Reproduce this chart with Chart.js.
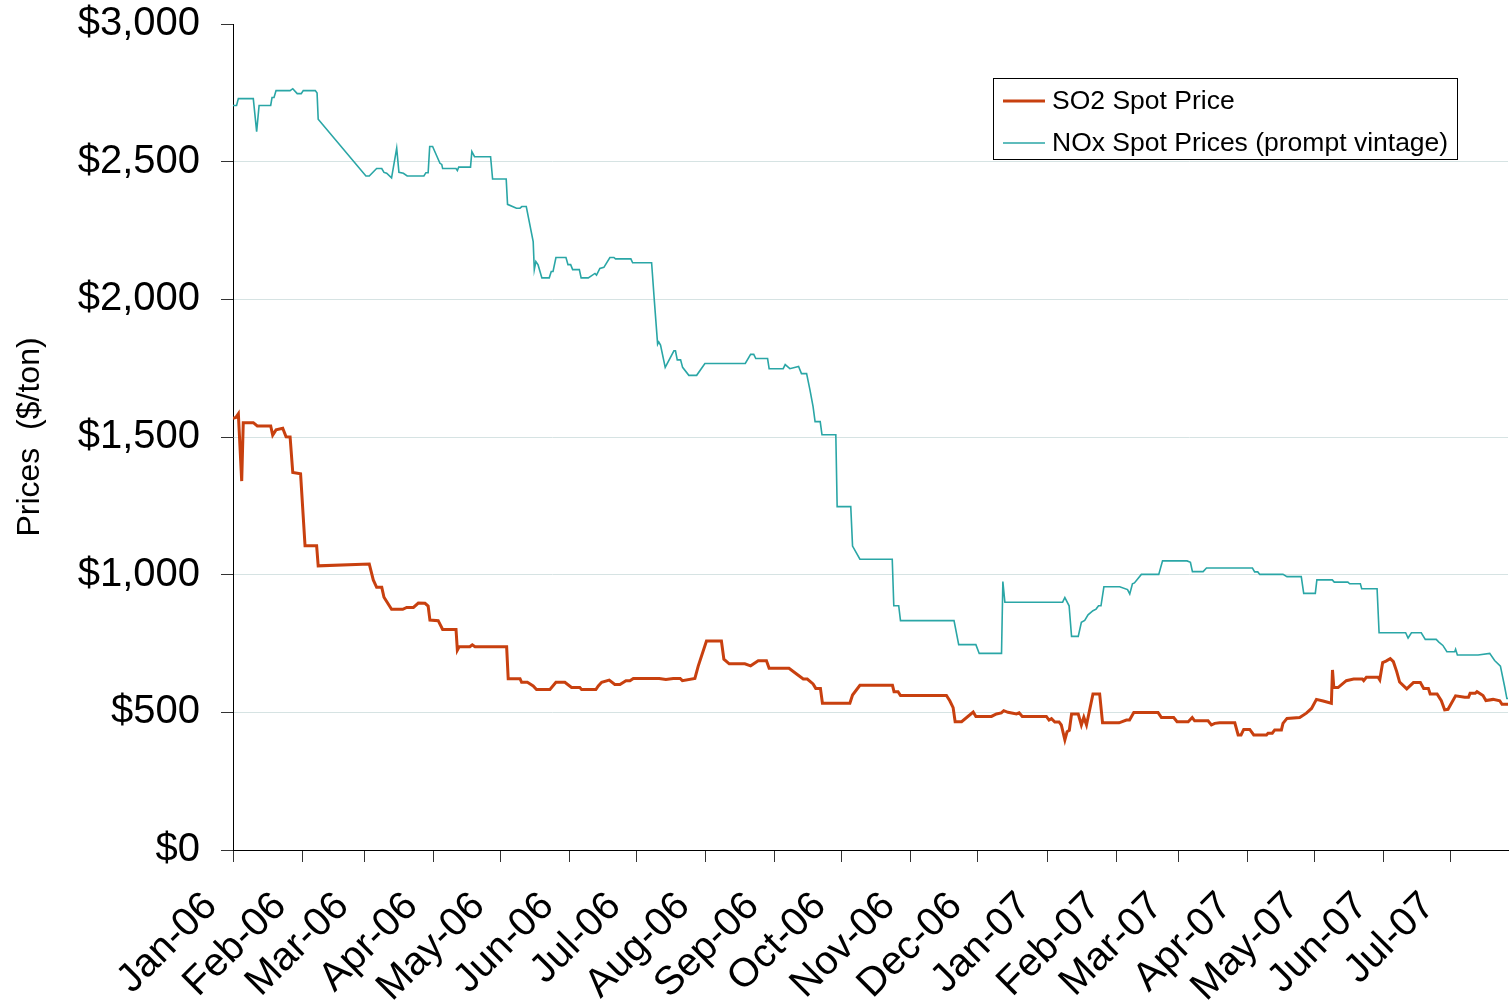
<!DOCTYPE html>
<html><head><meta charset="utf-8">
<script src="https://cdn.jsdelivr.net/npm/chart.js@4.4.0/dist/chart.umd.min.js"></script>
<style>html,body{margin:0;padding:0;background:#fff;overflow:hidden}#wrap{position:relative;width:1509px;height:1003px}</style>
</head><body><div id="wrap"><canvas id="c" width="1509" height="1003"></canvas></div>
<script>
// Month tick positions: days since 1 Jan 2006
const monthDays = [0,31,59,90,120,151,181,212,243,273,304,334,365,396,424,455,485,516,546];
const monthLabels = ['Jan-06','Feb-06','Mar-06','Apr-06','May-06','Jun-06','Jul-06','Aug-06','Sep-06','Oct-06','Nov-06','Dec-06','Jan-07','Feb-07','Mar-07','Apr-07','May-07','Jun-07','Jul-07'];
const yTickValues = [0,500,1000,1500,2000,2500,3000];
const yTickLabels = ['$0','$500','$1,000','$1,500','$2,000','$2,500','$3,000'];

// SO2 spot price ($/ton)
const so2Days = [0,1.3,2.4,3.9,4.6,9.1,10.9,16.9,17.8,19.3,22.3,23.8,25.6,26.8,30.3,32.3,37.5,38.2,61.1,62.9,64.4,66.7,67.7,71.1,76.1,77.9,80.9,83.1,86.1,87.5,88.3,92,94,100,100.6,101.4,106.2,107.3,108.5,122.7,123.4,128.7,129.4,132,134.6,136.1,142.1,144.8,148.8,151.8,155.5,156.3,162.7,163.8,165.3,168.7,171.2,173.5,176.2,178,179.5,191.1,194.1,197.4,200.5,201.5,207.1,208.6,212.3,219,220.1,222.5,229.5,232.1,235.5,239.2,240.4,249.3,252.7,255.7,257.5,260.1,261.3,263.4,264.3,276.6,277.8,281.1,295.7,296.4,298.2,299.3,319.9,321.4,322.9,323.8,326.7,331.9,333.1,340.1,342.3,344.5,345.6,347.5,351.3,352.5,353.9,364.7,365.9,367,368.5,370.4,371.4,373,374,375,376,379,380.4,381.5,382.7,385.6,388.6,389.9,397.3,400.6,402,403.9,414.8,416.3,421.8,423.3,428.3,430.1,431.2,437.2,438.7,440.2,442.4,449.2,450.7,452,453.2,455.9,457.7,463.4,464.1,466,467.1,470.1,470.8,472.6,478.3,481.3,483.6,485.8,488.8,492.5,493,493.6,495.5,499.2,502.5,506.4,507,508.2,513.5,514.2,515.5,517,518.9,520.3,521.8,523.1,526.3,529.3,532.4,533.9,536,536.8,539.9,541.8,543.3,544.8,548.2,552.3,554,554.7,557,557.8,560.5,561.8,565,568,569,571.9];
const so2Prices = [1568,1571,1584,1340,1552,1552,1540,1540,1507,1526,1532,1501,1500,1371,1366,1105,1105,1032,1039,981,954,954,918,874,874,881,881,897,896,886,835,833,801,801,726,738,738,745,738,738,622,622,609,609,596,583,583,609,609,590,590,583,583,596,609,617,601,601,615,615,623,623,619,623,623,615,623,668,759,759,693,676,676,669,687,687,660,660,639,621,621,603,587,587,533,533,563,598,598,575,575,561,561,542,517,466,466,501,485,485,494,498,506,500,494,498,485,485,472,477,465,465,454,400,430,435,494,494,454,482,454,567,567,462,462,472,472,499,499,481,481,466,466,481,469,469,454,460,462,462,418,418,438,438,418,418,424,424,436,436,460,478,481,497,514,547,541,533,654,590,590,615,621,621,615,627,627,618,681,686,695,684,648,610,585,608,608,587,587,567,567,542,509,511,560,555,555,569,569,575,561,543,547,542,529,529];

// NOx spot price, prompt vintage ($/ton)
const noxDays = [0,1.6,2.4,9.1,10.6,11.7,16.9,17.5,18.4,19.3,25.6,26.8,28.8,30.6,31.5,36.9,37.7,38.2,59.6,61.1,64.4,66.7,67.7,68.9,71.1,73.4,74.4,76.4,78.1,85.6,86.5,87.5,88.2,89.5,92.8,93.6,94,100,100.6,101.2,106.5,107.1,108.3,115.5,116.4,122.5,123.1,127.1,128.7,129.5,131.5,134.6,135.1,135.8,136.8,138.5,141.8,142.7,143.5,144.8,149.3,150.2,151.4,152.3,155.3,156.1,159.3,162.3,163,164.5,166.3,169,170.8,171.5,178.4,179.2,187.7,188.9,190.4,190.9,191.7,193.8,197.7,198.4,199.2,200.7,201.6,204.4,207.9,211.6,229.7,232.1,233.5,234.4,239.7,240.4,246.7,247.6,249.7,253.6,254.9,257.2,258.7,260.1,261,263.3,264.1,270.3,270.9,277,277.8,281.1,295.6,296.3,298.5,299.3,323.3,325.4,333.1,334.6,344.6,345.2,346.1,372,373,374.9,376,379,380.4,381.9,383.4,385.6,387,388.1,389.2,390.5,397.6,401.1,402.1,403.3,404.2,407.3,415.1,416.8,427.8,429.3,430.2,435,436.5,457.1,458.1,459.5,460.4,470.8,472.6,479,480.1,485.3,486,492.9,493.8,499.9,500.7,505.5,506.1,513,513.9,525.8,526.9,528.4,532.8,534.6,539.5,540.7,542.5,544.3,547.8,548.2,549,558.3,563.5,565.7,568.3,570.2,571.2,571.9];
const noxPrices = [2704,2704,2729,2729,2609,2704,2704,2733,2733,2758,2758,2765,2747,2747,2758,2758,2749,2654,2448,2448,2475,2475,2461,2458,2441,2549,2461,2458,2448,2448,2460,2460,2555,2555,2494,2490,2475,2475,2468,2480,2480,2537,2518,2518,2437,2437,2345,2331,2331,2337,2337,2210,2108,2137,2125,2078,2078,2101,2101,2152,2152,2126,2126,2108,2108,2078,2078,2094,2088,2112,2116,2152,2152,2147,2147,2133,2133,1998,1837,1845,1834,1753,1813,1813,1780,1780,1753,1724,1724,1767,1767,1800,1800,1785,1785,1748,1748,1763,1748,1756,1730,1730,1671,1610,1556,1556,1508,1508,1247,1247,1104,1056,1056,887,887,833,833,746,746,714,714,975,900,900,917,887,776,776,827,834,854,869,875,887,887,956,956,946,930,967,970,1001,1001,1050,1050,1045,1011,1011,1024,1024,1010,1010,1001,1001,993,993,932,932,981,981,973,973,967,967,949,949,789,789,770,789,789,765,765,755,743,720,720,729,708,708,714,688,668,593,550,550];

const seriesNames = ['SO2 Spot Price','NOx Spot Prices (prompt vintage)'];
const FONT = "'Liberation Sans', Arial, sans-serif";

function pts(xs, ys){ return xs.map((x,i)=>({x:x, y:ys[i]})); }

const legendBox = {
  id:'legendBox',
  afterDraw(chart){
    const ctx = chart.ctx;
    ctx.save();
    const bx = 993, by = 78, bw = 464, bh = 81;
    ctx.fillStyle = '#fff';
    ctx.fillRect(bx, by, bw, bh);
    ctx.strokeStyle = '#000';
    ctx.lineWidth = 1;
    ctx.strokeRect(bx + 0.5, by + 0.5, bw, bh);
    ctx.font = '26.5px ' + FONT;
    ctx.textBaseline = 'middle';
    ctx.textAlign = 'left';
    chart.data.datasets.forEach((ds, i) => {
      const ly = by + 23 + i * 42;
      ctx.strokeStyle = ds.borderColor;
      ctx.lineWidth = ds.borderWidth;
      ctx.beginPath();
      ctx.moveTo(1003, ly);
      ctx.lineTo(1045, ly);
      ctx.stroke();
      ctx.fillStyle = '#000';
      ctx.fillText(ds.label, 1052, ly + 1);
    });
    ctx.restore();
  }
};

new Chart(document.getElementById('c'), {
  type: 'line',
  data: {
    datasets: [
      { label: seriesNames[0], data: pts(so2Days, so2Prices), borderColor: '#C8400F', borderWidth: 3, pointRadius: 0, tension: 0, fill: false, order: 0 },
      { label: seriesNames[1], data: pts(noxDays, noxPrices), borderColor: '#2AA6A6', borderWidth: 1.6, pointRadius: 0, tension: 0, fill: false, order: 1 }
    ]
  },
  options: {
    responsive: false,
    animation: false,
    devicePixelRatio: 1,
    layout: { padding: { top: 24, right: 1, left: 0, bottom: 0 } },
    plugins: { legend: { display: false }, tooltip: { enabled: false } },
    scales: {
      x: {
        type: 'linear',
        min: 0, max: 571.7,
        afterBuildTicks: (s) => { s.ticks = monthDays.map(v => ({ value: v })); },
        afterFit: (s) => { s.height = 153; s.paddingLeft = 0; s.paddingRight = 0; },
        ticks: {
          autoSkip: false, maxRotation: 45, minRotation: 45,
          font: { family: FONT, size: 40 }, color: '#000', padding: 21, labelOffset: -22,
          callback: (v, i) => monthLabels[i]
        },
        grid: { drawOnChartArea: false, drawTicks: true, tickLength: 12, tickColor: '#333' },
        border: { color: '#000', width: 1 }
      },
      y: {
        min: 0, max: 3000,
        afterBuildTicks: (s) => { s.ticks = yTickValues.map(v => ({ value: v })); },
        afterFit: (s) => { s.width = 233; s.paddingTop = 0; s.paddingBottom = 0; },
        ticks: {
          font: { family: FONT, size: 40 }, color: '#000', padding: 21,
          callback: (v, i) => yTickLabels[i]
        },
        grid: {
          color: (c) => (c.tick && (c.tick.value === 3000 || c.tick.value === 0)) ? 'rgba(0,0,0,0)' : '#D6E3E3',
          lineWidth: 1, tickLength: 12, tickColor: '#333'
        },
        border: { color: '#000', width: 1 },
        title: { display: true, text: 'Prices  ($/ton)', font: { family: FONT, size: 32 }, color: '#000', padding: { top: 11, bottom: 0 } }
      }
    }
  },
  plugins: [legendBox]
});
</script>
</body></html>
